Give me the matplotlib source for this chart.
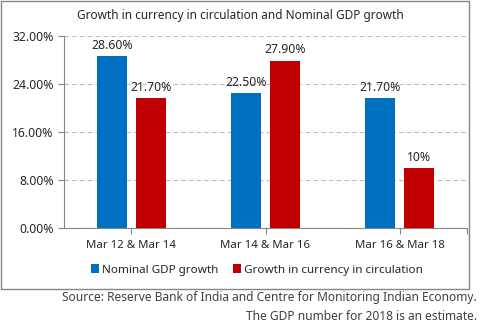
import matplotlib.pyplot as plt
import numpy as np
from matplotlib.patches import Rectangle

plt.rcParams['font.family'] = ['Noto Sans', 'DejaVu Sans']

periods = ['Mar 12 & Mar 14', 'Mar 14 & Mar 16', 'Mar 16 & Mar 18']
gdp_growth = [28.6, 22.5, 21.7]
currency_growth = [21.7, 27.9, 10.0]
gdp_labels = ['28.60%', '22.50%', '21.70%']
currency_labels = ['21.70%', '27.90%', '10%']
yticks = [0, 8, 16, 24, 32]

W, H = 481, 329
fig = plt.figure(figsize=(W / 100, H / 100), dpi=100)
ax = fig.add_axes([64 / W, (H - 228) / H, (467 - 64) / W, (228 - 36) / H])

x = np.arange(len(periods))
bw = 0.225
off = 0.145
blue, red = '#0070C0', '#C00000'
b1 = ax.bar(x - off, gdp_growth, bw, color=blue, label='Nominal GDP growth', zorder=3)
b2 = ax.bar(x + off, currency_growth, bw, color=red, label='Growth in currency in circulation', zorder=3)

for bars, labels in ((b1, gdp_labels), (b2, currency_labels)):
    for bar, lab in zip(bars, labels):
        ax.annotate(lab, (bar.get_x() + bar.get_width() / 2, bar.get_height()),
                    xytext=(0, 3), textcoords='offset points', ha='center', va='bottom',
                    fontsize=8.8, color='#262626')

ax.set_xlim(-0.5, 2.5)
ax.set_ylim(0, 32)
ax.set_yticks(yticks)
ax.set_yticklabels([f'{v:.2f}%' for v in yticks])
ax.set_xticks([0, 1, 2, 2.5])
ax.set_xticklabels(periods + [''])
ax.yaxis.grid(True, color='#BFBFBF', linestyle=(0, (4, 3)), linewidth=0.8, zorder=0)
for side in ('top', 'right'):
    ax.spines[side].set_visible(False)
for side in ('left', 'bottom'):
    ax.spines[side].set_color('#868686')
    ax.spines[side].set_linewidth(0.8)
ax.tick_params(axis='both', colors='#868686', labelcolor='#262626', labelsize=8.8, length=4, width=0.8)
ax.tick_params(axis='x', pad=5, labelsize=8.2)

fig.text(240 / W, 1 - 15 / H, 'Growth in currency in circulation and Nominal GDP growth',
         ha='center', va='center', fontsize=8.5, color='#262626')

fig.legend(handles=[b1, b2], loc='center', bbox_to_anchor=(257 / W, 1 - 270 / H),
           ncol=2, frameon=False, fontsize=8.4, handlelength=0.7, handleheight=0.7,
           handletextpad=0.25, columnspacing=1.2, labelcolor='#262626')

fig.add_artist(Rectangle((0.5 / W, 40 / H), 468.5 / W, (H - 40.5) / H, transform=fig.transFigure,
                         fill=False, edgecolor='#868686', linewidth=1.0))

fig.text(477 / W, 1 - 298 / H, 'Source: Reserve Bank of India and Centre for Monitoring Indian Economy.',
         ha='right', va='center', fontsize=8.6, color='#404040')
fig.text(477 / W, 1 - 316 / H, 'The GDP number for 2018 is an estimate.',
         ha='right', va='center', fontsize=8.6, color='#404040')

fig.savefig('out.png', dpi=100)
